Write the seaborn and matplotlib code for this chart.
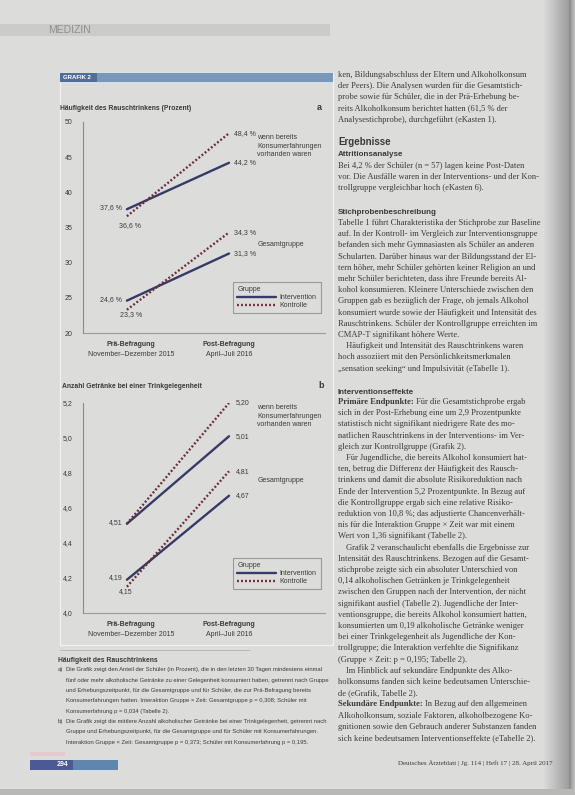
import numpy as np
import pandas as pd
import matplotlib
matplotlib.use('Agg')
import matplotlib.pyplot as plt
import seaborn as sns
from matplotlib.lines import Line2D
from matplotlib.patches import Rectangle
from matplotlib import font_manager

zeitpunkte = [0, 1]
zeit_titel = ['Prä-Befragung', 'Post-Befragung']
zeit_monate = ['November–Dezember 2015', 'April–Juli 2016']
gruppen = ['Intervention', 'Kontrolle']
stichproben = ['Konsumerfahrung', 'Gesamtgruppe']
label_konsum = 'wenn bereits\nKonsumerfahrungen\nvorhanden waren'
label_gesamt = 'Gesamtgruppe'

# a) Häufigkeit des Rauschtrinkens (Prozent)
rausch_konsum_int = [37.6, 44.2]
rausch_konsum_kon = [36.6, 48.4]
rausch_gesamt_int = [24.6, 31.3]
rausch_gesamt_kon = [23.3, 34.3]
rausch_ticks = [20, 25, 30, 35, 40, 45, 50]

# b) Anzahl Getränke bei einer Trinkgelegenheit
getraenke_konsum_int = [4.51, 5.01]
getraenke_konsum_kon = [4.51, 5.20]
getraenke_gesamt_int = [4.19, 4.67]
getraenke_gesamt_kon = [4.15, 4.81]
getraenke_ticks = [4.0, 4.2, 4.4, 4.6, 4.8, 5.0, 5.2]

bg = '#dcdcda'
farben = {'Intervention': '#363a68', 'Kontrolle': '#6e2b36'}
striche = {'Intervention': '', 'Kontrolle': (0.8, 0.9)}
textfarbe = '#3a3a3a'

sns.set_style('white', rc={'axes.facecolor': bg, 'figure.facecolor': bg})
plt.rcParams['font.family'] = ['Liberation Sans', 'DejaVu Sans']
namen = {f.name for f in font_manager.fontManager.ttflist}
schmal = 'Liberation Sans Narrow' if 'Liberation Sans Narrow' in namen else 'Liberation Sans'
legende_size = 4.9 if schmal == 'Liberation Sans Narrow' else 4.25
serif = ['Liberation Serif', 'DejaVu Serif']

W, H = 575, 795
def fx(x):
    return x / W
def fy(y):
    return 1 - y / H


def long_table(k_int, k_kon, g_int, g_kon):
    rows = []
    for stp, gr, werte in [('Konsumerfahrung', 'Intervention', k_int),
                           ('Konsumerfahrung', 'Kontrolle', k_kon),
                           ('Gesamtgruppe', 'Intervention', g_int),
                           ('Gesamtgruppe', 'Kontrolle', g_kon)]:
        for t, w in zip(zeitpunkte, werte):
            rows.append({'zeit': t, 'wert': w, 'Gruppe': gr, 'Stichprobe': stp})
    return pd.DataFrame(rows)


df_a = long_table(rausch_konsum_int, rausch_konsum_kon, rausch_gesamt_int, rausch_gesamt_kon)
df_b = long_table(getraenke_konsum_int, getraenke_konsum_kon, getraenke_gesamt_int, getraenke_gesamt_kon)

fig = plt.figure(figsize=(5.75, 7.95), dpi=100)
fig.patch.set_facecolor(bg)

ax_a = fig.add_axes([fx(83), fy(333), (325 - 83) / W, (333 - 122) / H])
ax_b = fig.add_axes([fx(83), fy(613), (325 - 83) / W, (613 - 403) / H])

for ax, df in [(ax_a, df_a), (ax_b, df_b)]:
    sns.lineplot(data=df, x='zeit', y='wert', hue='Gruppe', style='Gruppe', units='Stichprobe',
                 estimator=None, palette=farben, dashes=striche, linewidth=1.7,
                 legend=False, sort=False, ax=ax)
    ax.set_facecolor('none')
    ax.set_xlim(-0.43, 1.94)
    ax.set_xlabel('')
    ax.set_ylabel('')
    ax.set_xticks([])
    sns.despine(ax=ax, top=True, right=True)
    ax.spines['left'].set_color('#8a8a8a')
    ax.spines['left'].set_linewidth(0.8)
    ax.spines['bottom'].set_color('#9a9a9a')
    ax.spines['bottom'].set_linewidth(0.8)
    ax.tick_params(axis='y', direction='out', length=5.5, width=0.7, color='#8a8a8a',
                   labelsize=5, labelcolor=textfarbe, pad=2)
    for xp, titel, monat in zip([0.04, 1.0], zeit_titel, zeit_monate):
        ax.text(xp, -0.04, titel, transform=ax.get_xaxis_transform(), ha='center', va='top',
                fontsize=5, fontweight='bold', color=textfarbe)
        ax.text(xp, -0.085, monat, transform=ax.get_xaxis_transform(), ha='center', va='top',
                fontsize=5, color=textfarbe)

ax_a.set_ylim(20, 50)
ax_a.set_yticks(rausch_ticks)
ax_a.set_yticklabels([str(t) for t in rausch_ticks])
ax_b.set_ylim(4.0, 5.2)
ax_b.set_yticks(getraenke_ticks)
ax_b.set_yticklabels([f'{t:.1f}'.replace('.', ',') for t in getraenke_ticks])


def wert_label(ax, x, y, text, dx, dy, ha):
    ax.annotate(text, (x, y), xytext=(dx * 0.72, dy * 0.72), textcoords='offset points',
                ha=ha, va='center', fontsize=5, color=textfarbe)


def pct(v):
    return f'{v:.1f} %'.replace('.', ',')


def anz(v):
    return f'{v:.2f}'.replace('.', ',')


# Werte an den Punkten, Panel a
wert_label(ax_a, 0, rausch_konsum_int[0], pct(rausch_konsum_int[0]), -5, 2, 'right')
wert_label(ax_a, 0, rausch_konsum_kon[0], pct(rausch_konsum_kon[0]), 3, -9, 'center')
wert_label(ax_a, 0, rausch_gesamt_int[0], pct(rausch_gesamt_int[0]), -5, 1, 'right')
wert_label(ax_a, 0, rausch_gesamt_kon[0], pct(rausch_gesamt_kon[0]), 4, -5, 'center')
for serie in [rausch_konsum_int, rausch_konsum_kon, rausch_gesamt_int, rausch_gesamt_kon]:
    wert_label(ax_a, 1, serie[1], pct(serie[1]), 5, 0, 'left')

# Panel b
wert_label(ax_b, 0, getraenke_konsum_int[0], anz(getraenke_konsum_int[0]), -4, 1, 'right')
wert_label(ax_b, 0, getraenke_gesamt_int[0], anz(getraenke_gesamt_int[0]), -4, 2, 'right')
wert_label(ax_b, 0, getraenke_gesamt_kon[0], anz(getraenke_gesamt_kon[0]), -1, -5, 'center')
for serie in [getraenke_konsum_int, getraenke_konsum_kon, getraenke_gesamt_int, getraenke_gesamt_kon]:
    wert_label(ax_b, 1, serie[1], anz(serie[1]), 7, 0, 'left')

# Gruppenbeschriftung rechts
fig.text(fx(257), fy(134), label_konsum, fontsize=5, color=textfarbe, va='top', linespacing=1.35)
fig.text(fx(258), fy(245), label_gesamt, fontsize=5, color=textfarbe, va='center')
fig.text(fx(257), fy(404), label_konsum, fontsize=5, color=textfarbe, va='top', linespacing=1.35)
fig.text(fx(258), fy(481), label_gesamt, fontsize=5, color=textfarbe, va='center')

# Panel-Titel
fig.text(fx(60), fy(108), 'Häufigkeit des Rauschtrinkens (Prozent)', fontsize=4.9,
         fontweight='bold', color=textfarbe, va='center')
fig.text(fx(317), fy(108), 'a', fontsize=6.5, fontweight='bold', color=textfarbe, va='center')
fig.text(fx(62), fy(386), 'Anzahl Getränke bei einer Trinkgelegenheit', fontsize=4.9,
         fontweight='bold', color=textfarbe, va='center')
fig.text(fx(318), fy(386), 'b', fontsize=6.5, fontweight='bold', color=textfarbe, va='center')

# Legenden
handles = [Line2D([], [], color=farben['Intervention'], lw=1.7),
           Line2D([], [], color=farben['Kontrolle'], lw=1.7, dashes=striche['Kontrolle'])]
for ax, top in [(ax_a, 282), (ax_b, 558)]:
    leg = ax.legend(handles, gruppen, title='Gruppe', loc='upper left',
                    bbox_to_anchor=(fx(233), fy(top)), bbox_transform=fig.transFigure,
                    frameon=True, fancybox=False, edgecolor='#9a9a9a', facecolor=bg,
                    framealpha=1, fontsize=5, title_fontsize=5, alignment='left',
                    handlelength=5.6, borderpad=0.6, labelspacing=0.15,
                    handletextpad=0.5, borderaxespad=0)
    leg.get_frame().set_linewidth(0.8)
    leg.get_title().set_color(textfarbe)
    for t in leg.get_texts():
        t.set_color(textfarbe)

# Rahmen und Kopfleiste der Grafik
fig.add_artist(Rectangle((fx(60), fy(645)), 273 / W, (645 - 73) / H, transform=fig.transFigure,
                         fill=False, edgecolor='#f2f2f2', lw=0.9))
fig.add_artist(Rectangle((fx(60), fy(82)), 273 / W, 9 / H, transform=fig.transFigure,
                         facecolor='#7898bb', edgecolor='none'))
fig.add_artist(Rectangle((fx(60), fy(82)), 37 / W, 9 / H, transform=fig.transFigure,
                         facecolor='#4f6f9a', edgecolor='none'))
fig.text(fx(63), fy(77.5), 'GRAFIK 2', fontsize=4.3, fontweight='bold', color='white', va='center')
fig.add_artist(Line2D([fx(60), fx(250)], [fy(650), fy(650)], transform=fig.transFigure,
                      color='#b4b4b4', lw=0.6))

# Legende unter der Grafik
fig.text(fx(58), fy(660), 'Häufigkeit des Rauschtrinkens', family=schmal, fontsize=4.9,
         fontweight='bold', color=textfarbe, va='center')
legende_zeilen = [
    ('a)', 'Die Grafik zeigt den Anteil der Schüler (in Prozent), die in den letzten 30 Tagen mindestens einmal'),
    ('', 'fünf oder mehr alkoholische Getränke zu einer Gelegenheit konsumiert haben, getrennt nach Gruppe'),
    ('', 'und Erhebungszeitpunkt, für die Gesamtgruppe und für Schüler, die zur Prä-Befragung bereits'),
    ('', 'Konsumerfahrungen hatten. Interaktion Gruppe × Zeit: Gesamtgruppe p = 0,308; Schüler mit'),
    ('', 'Konsumerfahrung p = 0,034 (Tabelle 2).'),
    ('b)', 'Die Grafik zeigt die mittlere Anzahl alkoholischer Getränke bei einer Trinkgelegenheit, getrennt nach'),
    ('', 'Gruppe und Erhebungszeitpunkt, für die Gesamtgruppe und für Schüler mit Konsumerfahrungen.'),
    ('', 'Interaktion Gruppe × Zeit: Gesamtgruppe p = 0,373; Schüler mit Konsumerfahrung p = 0,195.'),
]
for i, (marke, zeile) in enumerate(legende_zeilen):
    y = 670 + i * 10.3
    if marke:
        fig.text(fx(58), fy(y), marke, family=schmal, fontsize=legende_size, color=textfarbe, va='center')
    fig.text(fx(66), fy(y), zeile, family=schmal, fontsize=legende_size, color=textfarbe, va='center')

# Kopfzeile der Seite
fig.add_artist(Rectangle((0, fy(36)), 330 / W, 12 / H, transform=fig.transFigure,
                         facecolor='#cbcbc9', edgecolor='none'))
fig.text(fx(48), fy(30), 'MEDIZIN', fontsize=7.5, color='#8e8e8e', va='center')

# rechte Spalte Fließtext
renderer = fig.canvas.get_renderer()


def zeile(x, y, teile, size=6.1):
    for text, weight in teile:
        t = fig.text(fx(x), fy(y), text, family=serif, fontsize=size, fontweight=weight,
                     color=textfarbe, va='center')
        x += t.get_window_extent(renderer).width + 2


def block(y0, zeilen, x=338, step=11.2):
    for i, z in enumerate(zeilen):
        if isinstance(z, tuple):
            zeile(x, y0 + i * step, [(z[0], 'bold'), (z[1], 'normal')])
        else:
            einzug = 8 if z.startswith('   ') else 0
            zeile(x + einzug, y0 + i * step, [(z.strip(), 'normal')])


def ueberschrift(y, text, size=5.8):
    fig.text(fx(338), fy(y), text, fontsize=size, fontweight='bold', color=textfarbe, va='center')


block(75, [
    'ken, Bildungsabschluss der Eltern und Alkoholkonsum',
    'der Peers). Die Analysen wurden für die Gesamtstich-',
    'probe sowie für Schüler, die in der Prä-Erhebung be-',
    'reits Alkoholkonsum berichtet hatten (61,5 % der',
    'Analysestichprobe), durchgeführt (eKasten 1).',
])
ueberschrift(142, 'Ergebnisse', 7)
ueberschrift(155, 'Attritionsanalyse')
block(166, [
    'Bei 4,2 % der Schüler (n = 57) lagen keine Post-Daten',
    'vor. Die Ausfälle waren in der Interventions- und der Kon-',
    'trollgruppe vergleichbar hoch (eKasten 6).',
])
ueberschrift(212, 'Stichprobenbeschreibung')
block(223, [
    'Tabelle 1 führt Charakteristika der Stichprobe zur Baseline',
    'auf. In der Kontroll- im Vergleich zur Interventionsgruppe',
    'befanden sich mehr Gymnasiasten als Schüler an anderen',
    'Schularten. Darüber hinaus war der Bildungsstand der El-',
    'tern höher, mehr Schüler gehörten keiner Religion an und',
    'mehr Schüler berichteten, dass ihre Freunde bereits Al-',
    'kohol konsumieren. Kleinere Unterschiede zwischen den',
    'Gruppen gab es bezüglich der Frage, ob jemals Alkohol',
    'konsumiert wurde sowie der Häufigkeit und Intensität des',
    'Rauschtrinkens. Schüler der Kontrollgruppe erreichten im',
    'CMAP-T signifikant höhere Werte.',
    '   Häufigkeit und Intensität des Rauschtrinkens waren',
    'hoch assoziiert mit den Persönlichkeitsmerkmalen',
    '„sensation seeking“ und Impulsivität (eTabelle 1).',
])
ueberschrift(392, 'Interventionseffekte')
block(402, [
    ('Primäre Endpunkte:', 'Für die Gesamtstichprobe ergab'),
    'sich in der Post-Erhebung eine um 2,9 Prozentpunkte',
    'statistisch nicht signifikant niedrigere Rate des mo-',
    'natlichen Rauschtrinkens in der Interventions- im Ver-',
    'gleich zur Kontrollgruppe (Grafik 2).',
    '   Für Jugendliche, die bereits Alkohol konsumiert hat-',
    'ten, betrug die Differenz der Häufigkeit des Rausch-',
    'trinkens und damit die absolute Risikoreduktion nach',
    'Ende der Intervention 5,2 Prozentpunkte. In Bezug auf',
    'die Kontrollgruppe ergab sich eine relative Risiko-',
    'reduktion von 10,8 %; das adjustierte Chancenverhält-',
    'nis für die Interaktion Gruppe × Zeit war mit einem',
    'Wert von 1,36 signifikant (Tabelle 2).',
    '   Grafik 2 veranschaulicht ebenfalls die Ergebnisse zur',
    'Intensität des Rauschtrinkens. Bezogen auf die Gesamt-',
    'stichprobe zeigte sich ein absoluter Unterschied von',
    '0,14 alkoholischen Getränken je Trinkgelegenheit',
    'zwischen den Gruppen nach der Intervention, der nicht',
    'signifikant ausfiel (Tabelle 2). Jugendliche der Inter-',
    'ventionsgruppe, die bereits Alkohol konsumiert hatten,',
    'konsumierten um 0,19 alkoholische Getränke weniger',
    'bei einer Trinkgelegenheit als Jugendliche der Kon-',
    'trollgruppe; die Interaktion verfehlte die Signifikanz',
    '(Gruppe × Zeit: p = 0,195; Tabelle 2).',
    '   Im Hinblick auf sekundäre Endpunkte des Alko-',
    'holkonsums fanden sich keine bedeutsamen Unterschie-',
    'de (eGrafik, Tabelle 2).',
    ('Sekundäre Endpunkte:', 'In Bezug auf den allgemeinen'),
    'Alkoholkonsum, soziale Faktoren, alkoholbezogene Ko-',
    'gnitionen sowie den Gebrauch anderer Substanzen fanden',
    'sich keine bedeutsamen Interventionseffekte (eTabelle 2).',
])

# Fußzeile
fig.text(fx(398), fy(763), 'Deutsches Ärzteblatt | Jg. 114 | Heft 17 | 28. April 2017',
         family=serif, fontsize=5.0, color=textfarbe, va='center')
fig.add_artist(Rectangle((fx(30), fy(756)), 35 / W, 4 / H, transform=fig.transFigure,
                         facecolor='#e6c9cd', edgecolor='none'))
fig.add_artist(Rectangle((fx(30), fy(770)), 88 / W, 10 / H, transform=fig.transFigure,
                         facecolor='#5f86ad', edgecolor='none'))
fig.add_artist(Rectangle((fx(30), fy(770)), 43 / W, 10 / H, transform=fig.transFigure,
                         facecolor='#4b5a92', edgecolor='none'))
fig.text(fx(57), fy(765), '294', fontsize=5, fontweight='bold', color='white', va='center')

# Schatten am rechten Seitenrand und unten
ax_s = fig.add_axes([fx(543), 0, 32 / W, 1])
verlauf = np.concatenate([np.linspace(0.86, 0.62, 26), np.linspace(0.55, 0.75, 6)])
ax_s.imshow(verlauf[np.newaxis, :], cmap='gray', vmin=0, vmax=1, aspect='auto')
ax_s.axis('off')
fig.add_artist(Rectangle((0, 0), 1, 6 / H, transform=fig.transFigure,
                         facecolor='#b8b8b6', edgecolor='none'))

fig.savefig('out.png', dpi=100, facecolor=bg)
